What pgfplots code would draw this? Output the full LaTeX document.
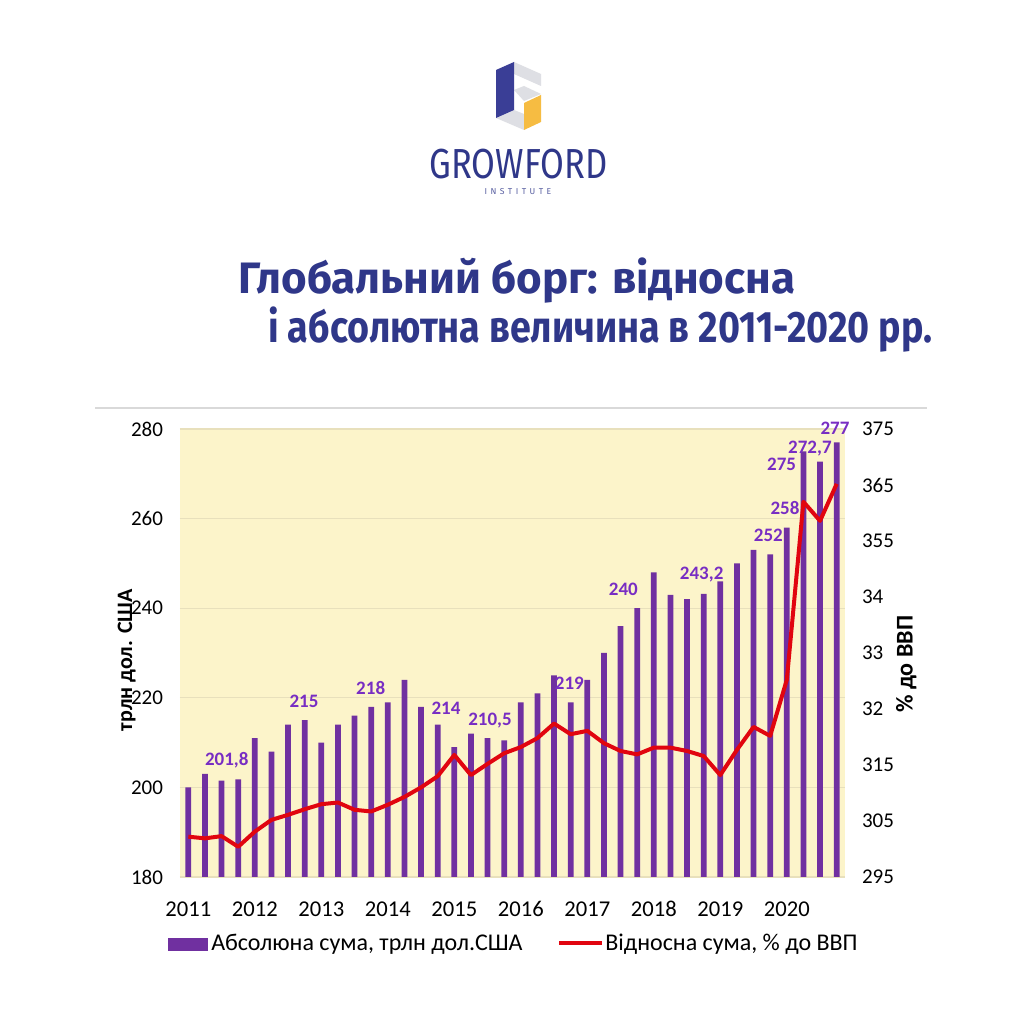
\documentclass[border=0pt]{standalone}
\usepackage{fontspec}
\setmainfont{Carlito}
\newfontfamily\titlefont{Fira Sans}
\usepackage{graphicx}
\usepackage{pgfplots}
\pgfplotsset{compat=1.18}
\definecolor{barpurple}{RGB}{112,48,160}
\definecolor{lblpurple}{RGB}{120,45,195}
\definecolor{linered}{RGB}{225,5,15}
\definecolor{plotbg}{RGB}{252,244,202}
\definecolor{gridc}{RGB}{232,224,188}
\definecolor{navy}{RGB}{47,55,137}
\definecolor{logoyellow}{RGB}{246,188,66}
\definecolor{logogray}{RGB}{222,223,228}
\definecolor{logoblue}{RGB}{58,62,150}
\begin{document}
\begin{tikzpicture}
\fill[white] (0,0) rectangle (512pt,512pt);
\path[use as bounding box] (0,0) rectangle (512pt,512pt);
% ---- decorations: logo, title, separator
\begin{scope}[x=0.5pt,y=-0.5pt,yshift=512pt]
  \fill[logogray] (514,62) -- (541,74) -- (541,86) -- (514,74) -- cycle;
  \fill[logogray] (514,90) -- (524,86) -- (541,94) -- (524,101) -- cycle;
  \fill[logogray] (496,118) -- (514,110) -- (524,114) -- (524,130) -- cycle;
  \fill[logoblue] (496,70) -- (514,62) -- (514,110) -- (496,118) -- cycle;
  \fill[logoyellow] (524,103) -- (541,95) -- (541,122) -- (524,130) -- cycle;
  \node[anchor=base, inner sep=0, text=navy] at (518.5,179)
     {\scalebox{0.82}[1]{\titlefont\fontsize{21}{21}\selectfont GROWFORD}};
  \node[anchor=base, inner sep=0, text=navy!80] at (518,195)
     {\titlefont\fontsize{4.3}{5}\selectfont\addfontfeature{LetterSpace=40}INSTITUTE};
  \node[anchor=base west, inner sep=0, text=navy] at (238,294)
     {\resizebox{278.5pt}{\height}{\titlefont\bfseries\fontsize{22}{24}\selectfont Глобальний борг: відносна}};
  \node[anchor=base west, inner sep=0, text=navy] at (268,343)
     {\resizebox{332pt}{\height}{\titlefont\bfseries\fontsize{22}{24}\selectfont і абсолютна величина в 2011-2020 рр.}};
  \draw[black!15, line width=0.6pt] (95,408) -- (927,408);
  % legend
  \fill[barpurple] (168,938) rectangle (208,951);
  \node[anchor=west, inner sep=0] at (211,944.5) {\fontsize{12}{14}\selectfont Абсолюна сума, трлн дол.США};
  \draw[linered, line width=2pt] (559,943.5) -- (602,943.5);
  \node[anchor=west, inner sep=0] at (605,944.5) {\fontsize{12}{14}\selectfont Відносна сума, \% до ВВП};
\end{scope}
% ---- left axis: bars
\begin{axis}[
  at={(90pt,73.5pt)}, anchor=south west,
  scale only axis, width=332.5pt, height=224pt,
  xmin=-0.5, xmax=39.5, ymin=180, ymax=280,
  ytick={180,200,...,280},
  xtick={0,4,...,36}, xticklabels={2011,2012,2013,2014,2015,2016,2017,2018,2019,2020},
  axis line style={draw=none}, major tick length=0pt,
  axis background/.style={fill=plotbg},
  ymajorgrids, grid style={gridc, line width=0.6pt},
  yticklabel style={font=\fontsize{10.5}{12}\selectfont, xshift=-5pt},
  xticklabel style={font=\fontsize{11.3}{13}\selectfont, text height=8pt, text depth=0pt, yshift=-8pt},
  ylabel={трлн дол. США},
  ylabel style={font=\bfseries\fontsize{11}{13}\selectfont, at={(axis description cs:-0.08,0.484)}, anchor=center},
  clip=false,
  /pgf/number format/assume math mode=true,
]
\addplot[ybar, bar width=0.35, fill=barpurple, draw=none, bar shift=0pt] coordinates {
(0,200) (1,203) (2,201.5) (3,201.8) (4,211) (5,208) (6,214) (7,215) (8,210) (9,214)
(10,216) (11,218) (12,219) (13,224) (14,218) (15,214) (16,209) (17,212) (18,211) (19,210.5)
(20,219) (21,221) (22,225) (23,219) (24,224) (25,230) (26,236) (27,240) (28,248) (29,243)
(30,242) (31,243.2) (32,246) (33,250) (34,253) (35,252) (36,258) (37,275) (38,272.7) (39,277)
};
\end{axis}
% ---- right axis: line
\begin{axis}[
  at={(90pt,73.5pt)}, anchor=south west,
  scale only axis, width=332.5pt, height=224pt,
  xmin=-0.5, xmax=39.5, ymin=295, ymax=375,
  axis y line*=right, axis x line=none,
  ytick={295,305,315,325,335,345,355,365,375},
  yticklabels={295,305,315,32,33,34,355,365,375},
  axis line style={draw=none}, major tick length=0pt,
  yticklabel style={font=\fontsize{10.5}{12}\selectfont, xshift=5pt},
  ylabel={\% до ВВП},
  ylabel style={font=\bfseries\fontsize{12}{14}\selectfont, at={(axis description cs:1.092,0.475)}, anchor=center},
  clip=false,
  /pgf/number format/assume math mode=true,
]
\addplot[linered, line width=2pt, mark=none, line join=round] coordinates {
(0,302.2) (1,301.9) (2,302.3) (3,300.4) (4,303.1) (5,305.2) (6,306.1) (7,307.1) (8,308.0) (9,308.3)
(10,307.0) (11,306.7) (12,307.9) (13,309.3) (14,311.0) (15,313.0) (16,316.8) (17,313.2) (18,315.2) (19,317.1)
(20,318.2) (21,319.8) (22,322.4) (23,320.5) (24,321.1) (25,318.9) (26,317.5) (27,316.9) (28,318.1) (29,318.1)
(30,317.5) (31,316.6) (32,313.2) (33,317.7) (34,321.8) (35,320.2) (36,330.2) (37,362.0) (38,358.6) (39,365.2)
};
% data labels (left-axis values converted: y_r = 295 + (y_l-180)*0.8)
\begin{scope}[every node/.style={font=\bfseries\fontsize{9.5}{11}\selectfont, text=lblpurple, inner sep=0pt, anchor=center}]
\node at (axis cs:2.31,{295+(205.96-180)*0.8}) {201,8};
\node at (axis cs:6.96,{295+(219.1-180)*0.8}) {215};
\node at (axis cs:10.97,{295+(222.25-180)*0.8}) {218};
\node at (axis cs:15.5,{295+(217.65-180)*0.8}) {214};
\node at (axis cs:18.15,{295+(215.0-180)*0.8}) {210,5};
\node at (axis cs:22.92,{295+(223.2-180)*0.8}) {219};
\node at (axis cs:26.17,{295+(244.2-180)*0.8}) {240};
\node at (axis cs:30.88,{295+(247.4-180)*0.8}) {243,2};
\node at (axis cs:34.89,{295+(256.2-180)*0.8}) {252};
\node at (axis cs:35.89,{295+(262.3-180)*0.8}) {258};
\node at (axis cs:35.69,{295+(272.2-180)*0.8}) {275};
\node at (axis cs:37.39,{295+(275.7-180)*0.8}) {272,7};
\node at (axis cs:38.9,{295+(280.2-180)*0.8}) {277};
\end{scope}
\end{axis}
\end{tikzpicture}
\end{document}
